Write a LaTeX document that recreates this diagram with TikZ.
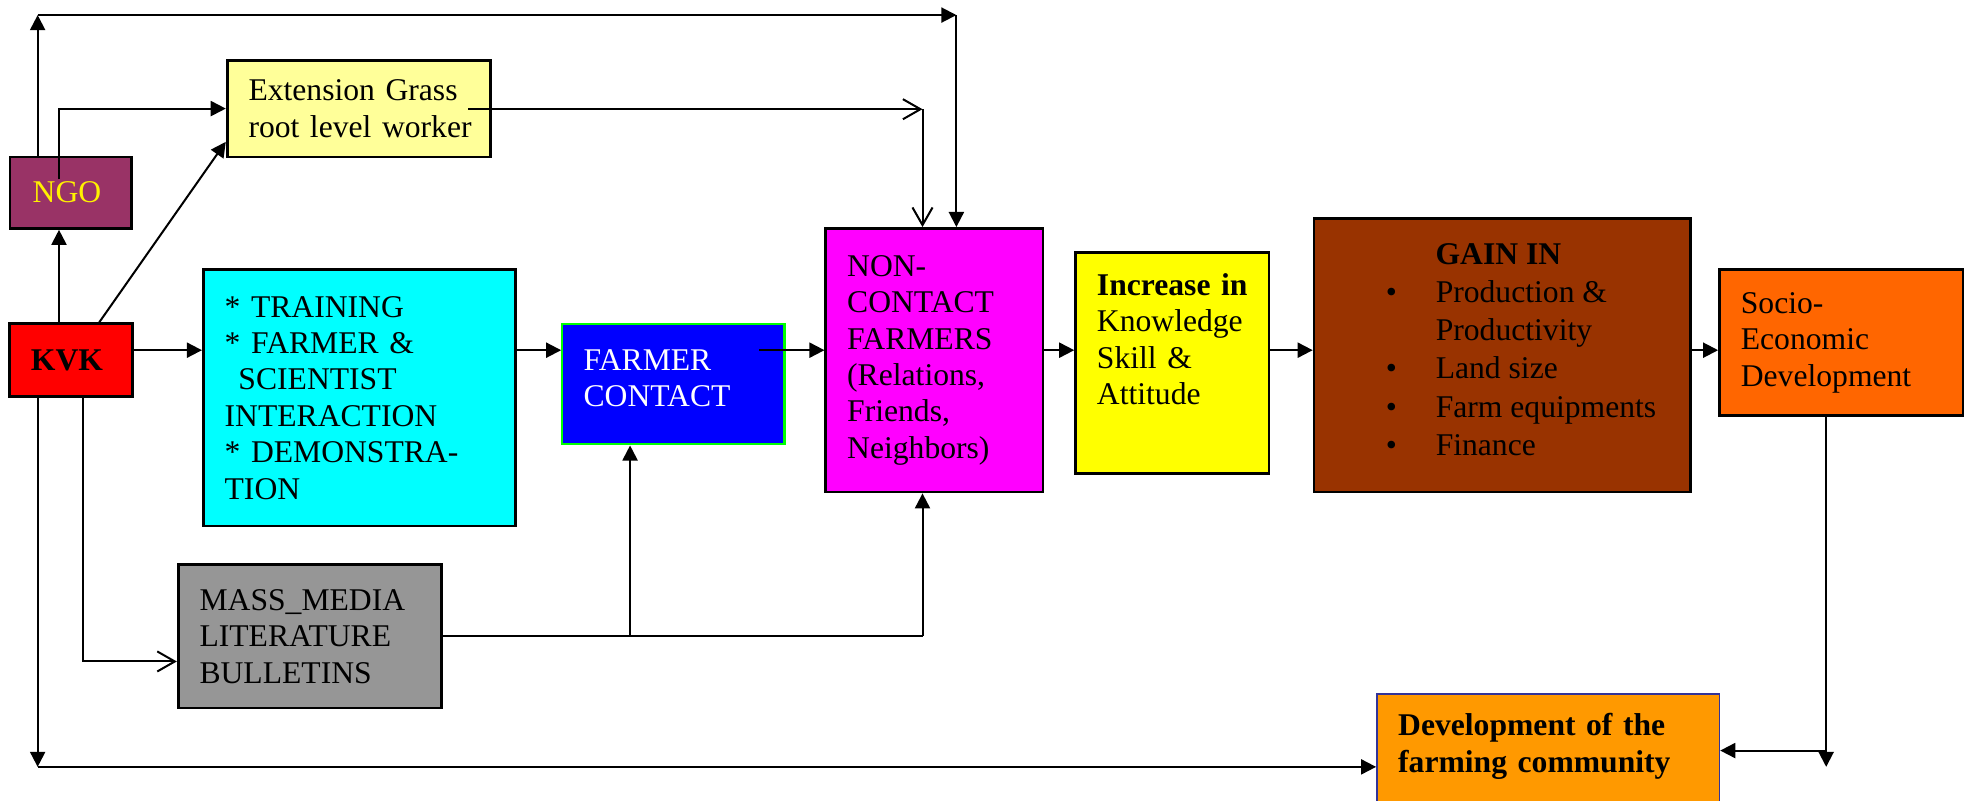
\documentclass[tikz,border=0pt]{standalone}
\usepackage{fontspec}
\setmainfont{Liberation Serif}
\usepackage{tikz}
\usetikzlibrary{arrows.meta}
\usepackage{xcolor}
\definecolor{ngocolor}{RGB}{153,51,102}
\definecolor{extcolor}{RGB}{255,255,153}
\definecolor{kvkcolor}{RGB}{255,0,0}
\definecolor{traincolor}{RGB}{0,255,255}
\definecolor{contactcolor}{RGB}{0,0,255}
\definecolor{contactborder}{RGB}{0,255,0}
\definecolor{noncontactcolor}{RGB}{255,0,255}
\definecolor{increasecolor}{RGB}{255,255,0}
\definecolor{gaincolor}{RGB}{153,51,0}
\definecolor{sociocolor}{RGB}{255,102,0}
\definecolor{devcolor}{RGB}{255,153,0}
\definecolor{devborder}{RGB}{51,51,153}
\definecolor{mediacolor}{RGB}{150,150,150}

\begin{document}
\begin{tikzpicture}[x=0.5pt, y=-0.5pt]
  \tikzset{
    box/.style={
      draw,
      line width=1.1pt,
      inner xsep=8.5pt,
      inner ysep=0pt,
      align=left,
      anchor=center,
      font=\fontsize{12.6}{14.5}\selectfont
    },
    link/.style={
      line width=0.8pt
    },
    tri/.style={
      link,
      -{Triangle[length=6pt,width=6pt]}
    },
    barb/.style={
      link,
      -{Straight Barb[length=7pt,width=8pt]}
    }
  }
  \useasboundingbox (0,0) rectangle (1568,638);

  % Draw the boxes
  \node[box, fill=ngocolor, text=yellow, align=center, minimum width=48.5pt, minimum height=28.5pt] at (56.5, 153.5) (ngo) {
    NGO
  };
  \node[box, fill=extcolor, text width=88pt, minimum height=38.5pt] at (286, 86.5) (ext) {
    Extension~Grass\\root~level~worker
  };
  \node[box, fill=kvkcolor, align=center, minimum width=48.5pt, minimum height=29pt] at (56.5, 287) (kvk) {
    \textbf{KVK}
  };
  \node[box, fill=traincolor, text width=107.5pt, minimum height=102pt] at (286.5, 317) (train) {
    {*} TRAINING\\{*} FARMER \&\\\hspace*{5.5pt}SCIENTIST\\INTERACTION\\{*} DEMONSTRA-\\TION
  };
  \node[box, draw=contactborder, line width=0.9pt, fill=contactcolor, text=white, text width=71.5pt, minimum height=48pt] at (536.5, 306) (fc) {
    FARMER\\CONTACT\rule[-5pt]{0pt}{0pt}
  };
  \node[box, fill=noncontactcolor, text width=69.5pt, minimum height=105pt] at (744.5, 287) (ncf) {
    NON-\\CONTACT\\FARMERS\\(Relations,\\Friends,\\Neighbors)
  };
  \node[box, fill=increasecolor, text width=60pt, minimum height=88pt] at (934, 289) (incr) {
    \textbf{Increase~in}\\Knowledge\\Skill \&\\Attitude\rule[-19pt]{0pt}{0pt}
  };
  \node[box, fill=gaincolor, align=center, minimum width=150pt, minimum height=109pt] at (1197, 283) (gain) {
    \renewcommand{\arraystretch}{1.05}%
    \begin{tabular}{@{\hspace{18pt}}l@{\hspace{15.5pt}}l@{}}
      \multicolumn{2}{c}{\textbf{GAIN IN}}\\
      \textbullet & Production \&\\
                  & Productivity\\
      \textbullet & Land size\\
      \textbullet & Farm equipments\\
      \textbullet & Finance\rule[-7pt]{0pt}{0pt}
    \end{tabular}
  };
  \node[box, fill=sociocolor, text width=80pt, minimum height=58pt] at (1467, 273) (socio) {
    Socio-\\Economic\\Development
  };
  \node[box, draw=devborder, line width=0.6pt, fill=devcolor, text width=119.5pt, minimum height=65pt] at (1233.5, 618) (dev) {
    \textbf{Development of the}\\\textbf{farming community}\rule[-26pt]{0pt}{0pt}
  };
  \node[box, fill=mediacolor, text width=88pt, minimum height=57pt] at (247, 507) (mass) {
    MASS\_MEDIA\\LITERATURE\\BULLETINS
  };

  % Connectors along the main row
  \coordinate (row) at (0, 279);
  \draw[tri] (kvk.east |- row) -- (train.west |- row);
  \draw[tri] (train.east |- row) -- (fc.west |- row);
  \coordinate (fcin) at (605, 279);
  \draw[tri] (fcin) -- (ncf.west |- row);
  \draw[tri] (ncf.east |- row) -- (incr.west |- row);
  \draw[tri] (incr.east |- row) -- (gain.west |- row);
  \draw[tri] (gain.east |- row) -- (socio.west |- row);

  % KVK, NGO and the extension worker
  \coordinate (ngoin) at (47, 143);
  \draw[tri] (kvk.north -| ngoin) -- (ngo.south -| ngoin);
  \draw[tri] (ngoin) |- (ext.west);
  \draw[tri] ([xshift=11.25pt]kvk.north) -- ([yshift=-13.25pt]ext.west);

  % Top loop from NGO down to the non-contact farmers
  \coordinate (topl) at (30, 12);
  \coordinate (topr) at (762, 12);
  \draw[tri] (ngo.north -| topl) -- (topl);
  \draw[tri] (topl) -- (topr);
  \draw[tri] (topr) -- (topr |- ncf.north);

  % Extension worker to the non-contact farmers
  \coordinate (extin) at (373, 87);
  \coordinate (extr) at (735, 87);
  \draw[barb] (extin) -- (extr);
  \draw[barb] (extr) -- (extr |- ncf.north);

  % Mass media
  \coordinate (mmin) at (66, 527);
  \draw[barb] (kvk.south -| mmin) |- (mass.west |- mmin);
  \coordinate (mmj) at (502, 507);
  \coordinate (mmr) at (735, 507);
  \draw[link] (mass.east |- mmj) -- (mmr);
  \draw[tri] (mmj) -- (fc.south -| mmj);
  \draw[tri] (mmr) -- (mmr |- ncf.south);

  % KVK to the farming community
  \coordinate (botl) at (30, 611);
  \draw[tri] (kvk.south -| botl) -- (botl);
  \draw[tri] (botl) -- (dev.west |- botl);

  % Socio-economic development to the farming community
  \coordinate (sdown) at (1455, 611);
  \coordinate (sjoin) at (1455, 598);
  \draw[tri] (socio.south -| sdown) -- (sdown);
  \draw[tri] (sjoin) -- (dev.east |- sjoin);
\end{tikzpicture}
\end{document}
